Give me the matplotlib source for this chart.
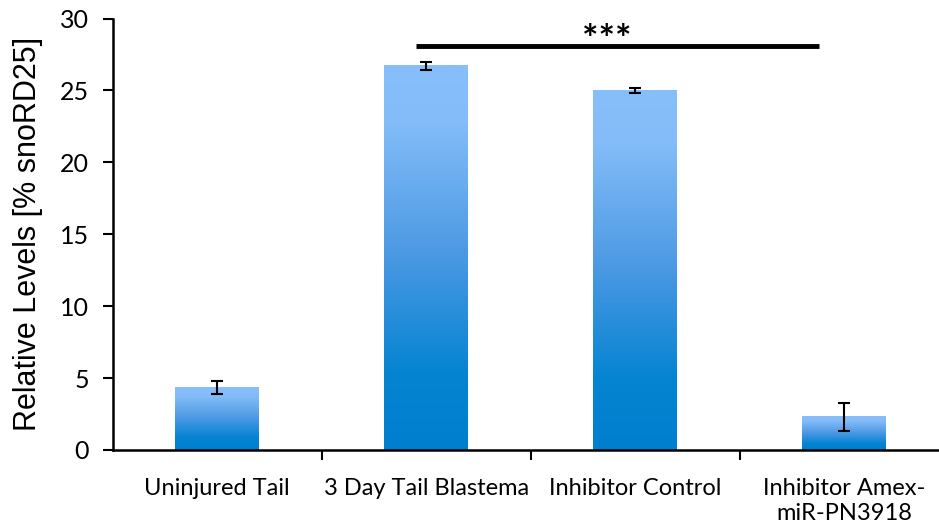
import numpy as np
import matplotlib.pyplot as plt
from matplotlib.colors import LinearSegmentedColormap

categories = ['Uninjured Tail', '3 Day Tail Blastema', 'Inhibitor Control',
              'Inhibitor Amex-\nmiR-PN3918']
values = [4.35, 26.7, 25.0, 2.3]
errors = [0.45, 0.25, 0.15, 1.0]
sig_from, sig_to, sig_y = 0.95, 2.88, 28.1
sig_text = '***'

tick_font = 'Lato'
label_font = 'Liberation Sans'

fig = plt.figure(figsize=(9.39, 5.26), dpi=100)
ax = fig.add_axes([0.12, 0.1445, 0.88, 0.8203])

grad = LinearSegmentedColormap.from_list(
    'bar', [(0, '#007fce'), (0.2, '#0584d2'), (0.5, '#4a98e3'),
            (0.85, '#83bcf8'), (1, '#86bffa')])
x = np.arange(len(categories))
width = 0.4
bars = ax.bar(x, values, width, color='none', edgecolor='none', zorder=2)
for b in bars:
    x0, h = b.get_x(), b.get_height()
    ax.imshow(np.linspace(0, 1, 256).reshape(-1, 1), cmap=grad, origin='lower',
              extent=[x0, x0 + b.get_width(), 0, h], aspect='auto', zorder=2)
ax.errorbar(x, values, yerr=errors, fmt='none', ecolor='black', elinewidth=1.5,
            capsize=4, capthick=1.5, zorder=3)

ax.plot([sig_from, sig_to], [sig_y, sig_y], color='black', lw=3.5,
        solid_capstyle='butt', clip_on=False, zorder=3)
ax.text((sig_from + sig_to) / 2 - 0.05, 28.5, sig_text, ha='center',
        va='center', fontsize=28, fontweight='bold', family=tick_font)

ax.set_xlim(-0.5, 3.454)
ax.set_ylim(0, 30)
ax.set_yticks(range(0, 31, 5))
ax.set_xticks(x)
ax.set_xticklabels(categories, family=tick_font, fontsize=17, linespacing=1.25)
ax.set_xticks(x[:-1] + 0.5, minor=True)
ax.tick_params(axis='x', which='major', length=0, pad=20)
ax.tick_params(axis='x', which='minor', length=7, width=1.5, direction='out')
ax.tick_params(axis='y', length=7, width=1.5, labelsize=18, pad=10)
for lab in ax.get_yticklabels():
    lab.set_family(tick_font)
ax.set_ylabel('Relative Levels [% snoRD25]', family=label_font, fontsize=22,
              labelpad=12)

for s in ['top', 'right']:
    ax.spines[s].set_visible(False)
ax.spines['left'].set_linewidth(1.8)
ax.spines['bottom'].set_linewidth(1.8)

fig.savefig('out.png', dpi=100)
